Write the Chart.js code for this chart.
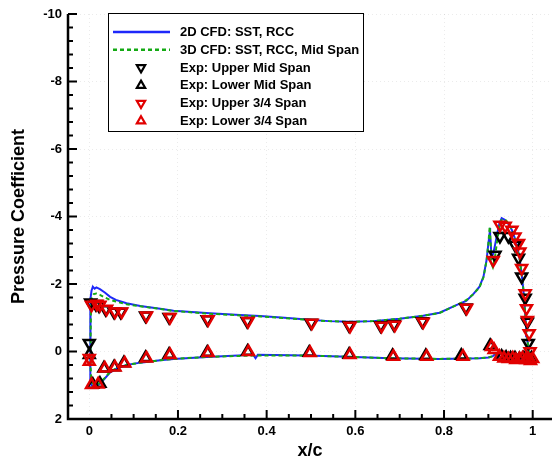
<!DOCTYPE html>
<html>
<head>
<meta charset="utf-8">
<script src="https://cdn.jsdelivr.net/npm/chart.js@4/dist/chart.umd.min.js"></script>
<style>
  html, body { margin: 0; padding: 0; background: #fff; overflow: hidden; }
  #wrap { width: 552px; height: 463px; }
</style>
</head>
<body>
<div id="wrap"><canvas id="cpChart" width="552" height="463"></canvas></div>
<script>
// Axis ticks
const xTickValues = [0, 0.2, 0.4, 0.6, 0.8, 1];
const xTickLabels = ['0', '0.2', '0.4', '0.6', '0.8', '1'];
const yTickValues = [-10, -8, -6, -4, -2, 0, 2];
const yTickLabels = ['-10', '-8', '-6', '-4', '-2', '0', '2'];

// 2D CFD (loop: trailing edge -> upper surface -> leading edge -> lower surface)
const cfd2dX = [0.995, 0.992, 0.99, 0.987, 0.985, 0.982, 0.979, 0.975, 0.971, 0.966, 0.96, 0.953, 0.945, 0.937, 0.93, 0.925, 0.92, 0.915, 0.911, 0.907, 0.905, 0.904, 0.902, 0.9, 0.896, 0.889, 0.88, 0.866, 0.85, 0.829, 0.79, 0.753, 0.7, 0.64, 0.588, 0.54, 0.49, 0.44, 0.385, 0.34, 0.272, 0.19, 0.16, 0.115, 0.084, 0.06, 0.047, 0.035, 0.024, 0.016, 0.012, 0.008, 0.005, 0.003, 0.002, 0.002, 0.003, 0.005, 0.01, 0.016, 0.024, 0.035, 0.047, 0.065, 0.084, 0.115, 0.16, 0.19, 0.265, 0.37, 0.375, 0.38, 0.49, 0.565, 0.678, 0.79, 0.88, 0.9, 0.91, 0.915, 0.93, 0.96, 0.995];
const cfd2dCp = [0.25, 0.1, -0.1, -0.45, -0.75, -1.3, -1.82, -2.3, -2.71, -3.05, -3.35, -3.6, -3.78, -3.9, -3.95, -3.8, -3.5, -3.15, -2.9, -2.8, -3.3, -3.66, -3.4, -3.2, -2.71, -2.22, -1.92, -1.7, -1.5, -1.38, -1.15, -1.06, -0.97, -0.9, -0.88, -0.9, -0.95, -1.0, -1.05, -1.08, -1.13, -1.21, -1.27, -1.35, -1.43, -1.53, -1.62, -1.75, -1.85, -1.9, -1.86, -1.92, -1.8, -1.6, -0.5, 0.5, 0.9, 1.0, 1.02, 1.0, 0.95, 0.8, 0.62, 0.48, 0.4, 0.33, 0.26, 0.22, 0.16, 0.1, 0.2, 0.1, 0.12, 0.15, 0.2, 0.22, 0.2, 0.18, 0.14, 0.08, 0.18, 0.22, 0.25];

// 3D CFD, mid span
const cfd3dX = [0.995, 0.99, 0.985, 0.979, 0.971, 0.96, 0.953, 0.945, 0.937, 0.93, 0.925, 0.92, 0.915, 0.91, 0.907, 0.905, 0.903, 0.9, 0.896, 0.889, 0.88, 0.866, 0.85, 0.829, 0.79, 0.753, 0.7, 0.64, 0.588, 0.54, 0.49, 0.44, 0.385, 0.34, 0.272, 0.19, 0.16, 0.115, 0.084, 0.06, 0.047, 0.035, 0.024, 0.016, 0.01, 0.006, 0.004, 0.003, 0.003, 0.005, 0.01, 0.016, 0.024, 0.035, 0.047, 0.065, 0.084, 0.115, 0.16, 0.19, 0.265, 0.37, 0.49, 0.565, 0.678, 0.79, 0.88, 0.9, 0.91, 0.915, 0.93, 0.96, 0.995];
const cfd3dCp = [0.25, -0.08, -0.8, -1.85, -2.7, -3.35, -3.62, -3.8, -3.92, -3.9, -3.7, -3.3, -2.8, -2.5, -2.6, -3.3, -3.7, -3.2, -2.7, -2.2, -1.9, -1.7, -1.52, -1.38, -1.14, -1.06, -0.97, -0.9, -0.88, -0.9, -0.94, -0.99, -1.04, -1.07, -1.12, -1.2, -1.26, -1.34, -1.4, -1.48, -1.53, -1.6, -1.68, -1.72, -1.7, -1.6, -1.4, -0.5, 0.5, 0.9, 0.98, 0.98, 0.93, 0.78, 0.6, 0.47, 0.4, 0.33, 0.26, 0.22, 0.16, 0.12, 0.12, 0.15, 0.2, 0.22, 0.2, 0.18, 0.14, 0.1, 0.18, 0.22, 0.25];

// Experiment
const upperMidX = [0.0, 0.003, 0.015, 0.022, 0.037, 0.056, 0.071, 0.127, 0.18, 0.266, 0.356, 0.5, 0.586, 0.657, 0.687, 0.751, 0.849, 0.915, 0.926, 0.945, 0.96, 0.968, 0.975, 0.983, 0.988, 0.99];
const upperMidCp = [-0.25, -1.45, -1.4, -1.36, -1.25, -1.17, -1.17, -1.06, -1.02, -0.95, -0.9, -0.85, -0.77, -0.77, -0.8, -0.89, -1.3, -2.86, -3.42, -3.42, -3.16, -2.77, -2.22, -1.59, -0.88, -0.25];

const lowerMidX = [0.0, 0.008, 0.024, 0.033, 0.056, 0.078, 0.127, 0.18, 0.266, 0.357, 0.496, 0.586, 0.684, 0.759, 0.839, 0.904, 0.93, 0.94, 0.95, 0.96, 0.97, 0.98, 0.99, 0.997];
const lowerMidCp = [0.1, 0.98, 0.95, 0.5, 0.46, 0.34, 0.19, 0.09, 0.03, 0.0, 0.03, 0.09, 0.13, 0.13, 0.12, -0.17, 0.15, 0.18, 0.2, 0.2, 0.22, 0.2, 0.24, 0.2];

const upper34X = [0.0, 0.005, 0.017, 0.024, 0.039, 0.058, 0.073, 0.129, 0.182, 0.268, 0.358, 0.502, 0.588, 0.659, 0.689, 0.753, 0.851, 0.911, 0.926, 0.938, 0.953, 0.96, 0.968, 0.971, 0.975, 0.983, 0.986, 0.988, 0.992, 0.994];
const upper34Cp = [0.2, -1.38, -1.41, -1.38, -1.26, -1.18, -1.18, -1.06, -1.02, -0.95, -0.9, -0.85, -0.76, -0.76, -0.79, -0.88, -1.29, -2.71, -3.75, -3.72, -3.6, -3.4, -3.21, -2.96, -2.47, -1.72, -1.28, -0.93, -0.54, 0.0];

const lower34X = [0.0, 0.005, 0.02, 0.035, 0.058, 0.08, 0.129, 0.182, 0.268, 0.359, 0.498, 0.588, 0.686, 0.761, 0.843, 0.907, 0.913, 0.925, 0.935, 0.945, 0.955, 0.962, 0.97, 0.977, 0.985, 0.99, 0.995, 1.0];
const lower34Cp = [0.3, 0.99, 0.97, 0.5, 0.47, 0.35, 0.2, 0.1, 0.04, 0.01, 0.04, 0.1, 0.15, 0.15, 0.15, -0.14, -0.05, 0.15, 0.2, 0.22, 0.2, 0.25, 0.22, 0.2, 0.25, 0.22, 0.28, 0.22];

const BLUE = 'rgb(30, 40, 250)';
const GREEN = 'rgb(20, 170, 20)';
const RED = 'rgb(225, 0, 0)';
const BLACK = '#000';
const FONT = "'Liberation Sans', Arial, sans-serif";

function pts(xs, ys) {
    return xs.map((v, i) => ({ x: v, y: ys[i] }));
}

function lineSet(label, xs, ys, color, dash, order) {
    return {
        label: label, data: pts(xs, ys), showLine: true,
        borderColor: color, borderWidth: 2, borderDash: dash,
        pointRadius: 0, fill: false, tension: 0, order: order
    };
}

function markerSet(label, xs, ys, color, down, order) {
    return {
        label: label, data: pts(xs, ys), showLine: false,
        pointStyle: 'triangle', rotation: down ? 180 : 0,
        pointRadius: 6.3, borderColor: color, borderWidth: 2.5,
        backgroundColor: 'rgba(255,255,255,0)', order: order
    };
}

const datasets = [
    lineSet('2D CFD: SST, RCC', cfd2dX, cfd2dCp, BLUE, [], 6),
    lineSet('3D CFD: SST, RCC, Mid Span', cfd3dX, cfd3dCp, GREEN, [4, 3], 5),
    markerSet('Exp: Upper Mid Span', upperMidX, upperMidCp, BLACK, true, 4),
    markerSet('Exp: Lower Mid Span', lowerMidX, lowerMidCp, BLACK, false, 3),
    markerSet('Exp: Upper 3/4 Span', upper34X, upper34Cp, RED, true, 2),
    markerSet('Exp: Lower 3/4 Span', lower34X, lower34Cp, RED, false, 1)
];

// axis lines, inward ticks + legend box
const framePlugin = {
    id: 'framePlugin',
    afterDraw(chart) {
        const { ctx, chartArea: a, scales: { x, y } } = chart;
        ctx.save();
        ctx.strokeStyle = '#000';
        ctx.lineWidth = 2.5;
        ctx.beginPath();
        ctx.moveTo(a.left, a.top);
        ctx.lineTo(a.left, a.bottom);
        ctx.lineTo(a.right, a.bottom);
        ctx.stroke();

        ctx.lineWidth = 2;
        ctx.beginPath();
        for (let i = 1; i <= 20; i++) {
            const px = x.getPixelForValue(i * 0.05);
            const len = i % 4 === 0 ? 9 : 5;
            ctx.moveTo(px, a.bottom);
            ctx.lineTo(px, a.bottom - len);
        }
        for (let i = 0; i <= 30; i++) {
            const py = y.getPixelForValue(-10 + i * 0.4);
            const len = i % 5 === 0 ? 9 : 5;
            ctx.moveTo(a.left, py);
            ctx.lineTo(a.left + len, py);
        }
        ctx.stroke();

        // legend
        const bx = 108, by = 13, bw = 255, bh = 118;
        ctx.fillStyle = '#fff';
        ctx.fillRect(bx, by, bw, bh);
        ctx.lineWidth = 1;
        ctx.strokeStyle = '#000';
        ctx.strokeRect(bx + 0.5, by + 0.5, bw, bh);
        ctx.font = 'bold 13px ' + FONT;
        ctx.textBaseline = 'middle';
        ctx.textAlign = 'left';
        chart.data.datasets.forEach((ds, i) => {
            const ry = 32 + i * 17.8;
            if (ds.showLine) {
                ctx.save();
                ctx.strokeStyle = ds.borderColor;
                ctx.lineWidth = 2.5;
                ctx.setLineDash(ds.borderDash);
                ctx.beginPath();
                ctx.moveTo(113, ry);
                ctx.lineTo(170, ry);
                ctx.stroke();
                ctx.restore();
            } else {
                const r = 4.8;
                const s = ds.rotation ? -1 : 1;
                ctx.save();
                ctx.strokeStyle = ds.borderColor;
                ctx.lineWidth = 2.2;
                ctx.beginPath();
                ctx.moveTo(141, ry - s * r);
                ctx.lineTo(141 + r * 0.866, ry + s * r * 0.5);
                ctx.lineTo(141 - r * 0.866, ry + s * r * 0.5);
                ctx.closePath();
                ctx.stroke();
                ctx.restore();
            }
            ctx.fillStyle = '#000';
            ctx.fillText(ds.label, 180, ry + 0.5);
        });
        ctx.restore();
    }
};

new Chart(document.getElementById('cpChart'), {
    type: 'scatter',
    data: { datasets: datasets },
    options: {
        responsive: false,
        animation: false,
        layout: { autoPadding: false, padding: { top: 14, right: 0, left: 0, bottom: 0 } },
        plugins: { legend: { display: false }, tooltip: { enabled: false } },
        scales: {
            x: {
                type: 'linear', min: -0.048, max: 1.0435,
                afterBuildTicks: s => { s.ticks = xTickValues.map(v => ({ value: v })); },
                afterFit: s => { s.height = 44; s.paddingLeft = 0; s.paddingRight = 0; },
                ticks: {
                    padding: 5, color: '#000',
                    font: { family: FONT, size: 13, weight: 'bold' },
                    callback: v => xTickLabels[xTickValues.indexOf(v)]
                },
                grid: { color: 'rgba(0,0,0,0.08)', drawTicks: false, lineWidth: 1 },
                border: { display: false, dash: [1, 3] },
                title: {
                    display: true, text: 'x/c', color: '#000',
                    font: { family: FONT, size: 18, weight: 'bold' },
                    padding: { top: 0, bottom: 1 }
                }
            },
            y: {
                type: 'linear', min: -10, max: 2, reverse: true,
                afterBuildTicks: s => { s.ticks = yTickValues.map(v => ({ value: v })); },
                afterFit: s => { s.width = 68; },
                ticks: {
                    padding: 6, color: '#000',
                    font: { family: FONT, size: 13, weight: 'bold' },
                    callback: v => yTickLabels[yTickValues.indexOf(v)]
                },
                grid: { color: 'rgba(0,0,0,0.08)', drawTicks: false, lineWidth: 1 },
                border: { display: false, dash: [1, 3] },
                title: {
                    display: true, text: 'Pressure Coefficient', color: '#000',
                    font: { family: FONT, size: 18, weight: 'bold' },
                    padding: { top: 8, bottom: 0 }
                }
            }
        }
    },
    plugins: [framePlugin]
});
</script>
</body>
</html>
